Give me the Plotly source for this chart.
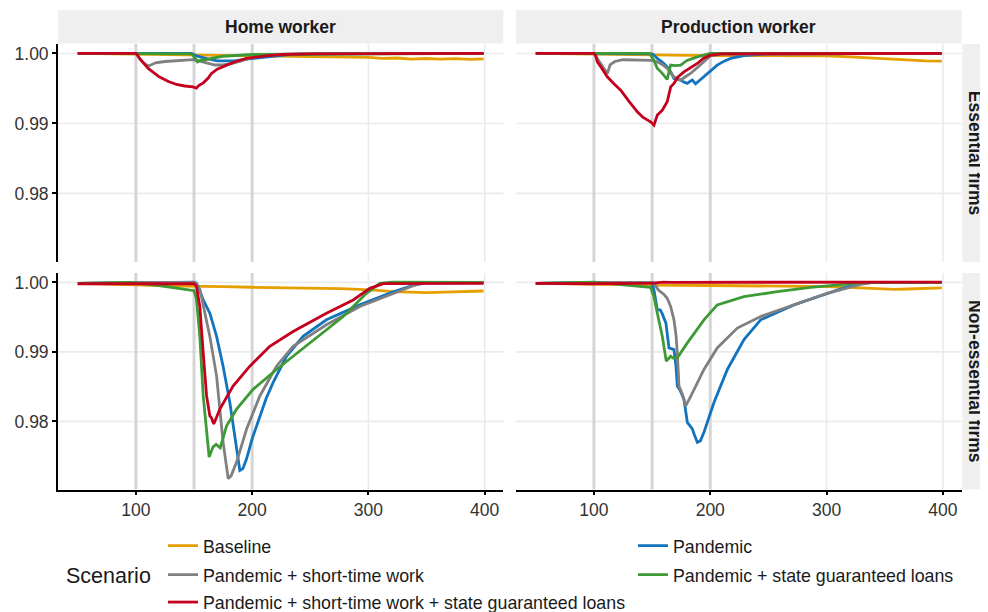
import plotly.graph_objects as go

# ---------------- data ----------------
SCENARIOS = ["Baseline", "Pandemic", "Pandemic + short-time work",
             "Pandemic + state guaranteed loans",
             "Pandemic + short-time work + state guaranteed loans"]
COLORS = ["#E69F00", "#1273BE", "#808080", "#3D9A35", "#C4001E"]
ROW_LABELS = ["Essential firms", "Non-essential firms"]
COL_LABELS = ["Home worker", "Production worker"]
X_TICKS = [100, 200, 300, 400]
Y_TICKS = [0.98, 0.99, 1.00]
Y_TICK_TEXT = ["0.98", "0.99", "1.00"]
POLICY_DATES = [100, 150, 200]

# Essential firms / Home worker
eh_base_x = [50, 75, 100, 125, 150, 175, 200, 225, 250, 275, 300, 312, 325, 337, 350, 362, 375, 387, 399]
eh_base_y = [1.0, 0.99995, 0.9999, 0.99975, 0.9997, 0.9997, 0.99965, 0.9996, 0.99958, 0.9995, 0.99945, 0.9993, 0.99935, 0.9992, 0.99928, 0.99918, 0.99925, 0.99915, 0.99922]
eh_pan_x = [50, 100, 148, 152, 158, 165, 170, 178, 185, 195, 207, 218, 230, 260, 300, 350, 399]
eh_pan_y = [1.0, 1.0, 1.0, 0.99965, 0.99935, 0.9991, 0.99895, 0.99892, 0.99895, 0.9992, 0.9994, 0.9996, 0.9998, 0.99995, 1.0, 1.0, 1.0]
eh_stw_x = [50, 100, 103, 107, 110.5, 117, 125, 135, 149, 154, 160, 168, 175, 182, 190, 197, 205, 215, 230, 260, 399]
eh_stw_y = [1.0, 1.0, 0.9993, 0.9986, 0.99818, 0.99866, 0.99885, 0.999, 0.99911, 0.99895, 0.9987, 0.99835, 0.99835, 0.99855, 0.9989, 0.9993, 0.9996, 0.9998, 0.9999, 1.0, 1.0]
eh_sgl_x = [50, 100, 148, 151, 153, 156, 160, 165, 175, 200, 399]
eh_sgl_y = [1.0, 1.0, 0.99995, 0.9993, 0.9988, 0.99905, 0.9991, 0.9993, 0.9996, 0.99985, 1.0]
eh_both_x = [50, 100, 101, 104, 110.6, 120, 128, 135, 142, 149, 152, 154, 158, 162, 165, 170, 178, 186, 195, 204, 212, 225, 250, 399]
eh_both_y = [1.0, 1.0, 0.99985, 0.9991, 0.99786, 0.99666, 0.996, 0.99557, 0.99535, 0.99523, 0.99505, 0.9954, 0.9958, 0.99645, 0.99714, 0.99775, 0.99833, 0.99885, 0.99929, 0.9995, 0.99966, 0.99985, 0.99995, 1.0]

# Essential firms / Production worker
ep_base_x = [50, 100, 150, 200, 250, 300, 320, 343, 360, 372, 385, 399]
ep_base_y = [1.0, 0.99995, 0.9998, 0.9997, 0.9997, 0.99965, 0.9995, 0.99928, 0.9992, 0.99905, 0.99895, 0.9989]
ep_pan_x = [50, 100, 150, 152, 154.5, 160, 163, 166, 168.8, 172, 174.5, 177.5, 180.3, 182.5, 184.6, 187.4, 190.5, 194.5, 200, 206, 212, 217.5, 229, 250, 399]
ep_pan_y = [1.0, 1.0, 0.99995, 0.9997, 0.99929, 0.9986, 0.99809, 0.9974, 0.99643, 0.9963, 0.99619, 0.9959, 0.99571, 0.996, 0.99619, 0.99566, 0.9961, 0.99666, 0.9975, 0.99833, 0.9989, 0.99929, 0.9997, 0.99995, 1.0]
ep_stw_x = [50, 100, 102, 106, 111.5, 114, 118, 125, 135, 143, 150, 154.5, 159, 163, 166, 168.8, 171.5, 174.5, 178, 183, 189, 194.5, 200, 210, 399]
ep_stw_y = [1.0, 1.0, 0.9995, 0.9985, 0.99714, 0.9984, 0.99885, 0.9991, 0.9991, 0.9991, 0.999, 0.9988, 0.9984, 0.99786, 0.9973, 0.99666, 0.9964, 0.99619, 0.9966, 0.99714, 0.998, 0.9988, 0.99965, 0.9999, 1.0]
ep_sgl_x = [50, 100, 148, 151.6, 154.5, 158, 163, 165.9, 170, 174.5, 180, 189, 200, 399]
ep_sgl_y = [1.0, 1.0, 1.0, 0.999, 0.99786, 0.9973, 0.99628, 0.99833, 0.99825, 0.99833, 0.999, 0.9995, 1.0, 1.0]
ep_both_x = [50, 100, 101.5, 103, 107, 111.5, 117, 123, 130, 137.3, 142, 145.9, 149, 151.6, 153, 154.5, 158.8, 161, 163, 165, 166, 168.8, 172, 177.4, 183, 188.9, 194, 200.3, 210, 399]
ep_both_y = [1.0, 1.0, 0.9997, 0.9988, 0.9978, 0.99666, 0.9957, 0.99476, 0.9932, 0.99166, 0.9909, 0.99047, 0.9902, 0.98976, 0.9905, 0.99119, 0.9919, 0.9925, 0.99309, 0.9945, 0.99523, 0.99571, 0.9966, 0.99737, 0.998, 0.99857, 0.9993, 0.99976, 0.99995, 1.0]

# Non-essential firms / Home worker
nh_base_x = [50, 75, 100, 125, 150, 175, 200, 225, 250, 275, 292, 305, 321, 335, 350, 365, 380, 399]
nh_base_y = [0.99985, 0.9998, 0.99965, 0.9995, 0.99947, 0.9994, 0.9993, 0.99925, 0.9992, 0.9991, 0.999, 0.9989, 0.99866, 0.9986, 0.99852, 0.9986, 0.99865, 0.99876]
nh_pan_x = [50, 100, 150, 152, 155, 157.9, 163.6, 169.4, 175, 180.8, 186.6, 189.4, 192, 195.2, 200, 206.6, 212, 218, 229.5, 243.8, 263.9, 292.6, 321.3, 338.5, 350, 399]
nh_pan_y = [0.99985, 1.0, 1.00005, 0.9999, 0.9988, 0.99747, 0.99557, 0.99223, 0.98794, 0.98271, 0.97651, 0.97294, 0.9732, 0.97461, 0.9775, 0.9808, 0.9833, 0.98557, 0.98937, 0.99223, 0.99461, 0.99676, 0.99866, 0.99957, 1.0, 1.0]
nh_stw_x = [50, 100, 150, 152, 155, 157.9, 163.6, 169.4, 175, 179.4, 182, 186.6, 195.2, 206.6, 220.9, 235.2, 263.9, 292.6, 321.3, 338.5, 350, 399]
nh_stw_y = [0.99985, 1.0, 1.0, 0.9998, 0.999, 0.99676, 0.99223, 0.98651, 0.977, 0.97176, 0.9722, 0.97414, 0.9789, 0.98366, 0.98794, 0.9908, 0.9939, 0.99652, 0.99838, 0.99952, 1.0, 1.0]
nh_sgl_x = [50, 95, 120, 150, 152, 155, 157.9, 160.8, 163, 166.3, 169, 172.5, 178, 186.6, 200.8, 220.9, 249.6, 278.3, 298.3, 309.8, 320, 399]
nh_sgl_y = [0.99985, 1.0, 0.99955, 0.9988, 0.99776, 0.99223, 0.98366, 0.97794, 0.97486, 0.9763, 0.9767, 0.9762, 0.97937, 0.98176, 0.98461, 0.98747, 0.99129, 0.99509, 0.99843, 0.99986, 1.00005, 1.0]
nh_both_x = [50, 100, 150, 152, 155, 157.9, 160.8, 163.6, 165, 167, 170, 172.2, 183.6, 198, 215.2, 235.2, 263.9, 286.9, 301.2, 312.7, 399]
nh_both_y = [0.9998, 0.9998, 0.9998, 0.9995, 0.99652, 0.98986, 0.98366, 0.9808, 0.9805, 0.97961, 0.9808, 0.98176, 0.98509, 0.98794, 0.9908, 0.99294, 0.99557, 0.99747, 0.99914, 0.99981, 0.99985]

# Non-essential firms / Production worker
np_base_x = [50, 100, 150, 200, 250, 300, 329, 345, 358, 370, 385, 399]
np_base_y = [0.99985, 0.9997, 0.9996, 0.99955, 0.9995, 0.9994, 0.9992, 0.9991, 0.999, 0.99905, 0.99915, 0.9992]
np_pan_x = [50, 100, 150, 151.6, 154.5, 157, 158.5, 161.9, 164.5, 168.8, 170.5, 171.7, 174, 177.4, 180.3, 184.6, 186.5, 188.9, 191.5, 194.6, 203.2, 214.7, 229, 243.3, 271.9, 300.6, 323.6, 340, 399]
np_pan_y = [0.99985, 1.0, 1.0, 0.9989, 0.99604, 0.99604, 0.99557, 0.99414, 0.99057, 0.99033, 0.988, 0.98509, 0.9845, 0.98319, 0.97986, 0.9789, 0.978, 0.977, 0.9772, 0.97843, 0.98271, 0.98747, 0.99176, 0.99461, 0.99676, 0.99843, 0.9997, 1.0, 1.0]
np_stw_x = [50, 100, 150, 152, 155.4, 160, 163, 166, 168.8, 170.5, 171.7, 173.1, 176, 178.8, 182, 186, 194.6, 206, 223.3, 243.3, 271.9, 300.6, 329.3, 340, 399]
np_stw_y = [0.99985, 1.0, 1.0, 0.9998, 0.9989, 0.9983, 0.99771, 0.9965, 0.99461, 0.9925, 0.98986, 0.98509, 0.9839, 0.98223, 0.9832, 0.98461, 0.98747, 0.99057, 0.99343, 0.99509, 0.99676, 0.99843, 0.9997, 1.0, 1.0]
np_sgl_x = [50, 100, 148.7, 151.6, 154.5, 158.8, 162.2, 165.9, 168, 171.7, 180.3, 194.6, 206, 228.9, 257.7, 286.3, 315, 330, 399]
np_sgl_y = [0.99985, 1.00005, 0.99928, 0.99795, 0.99557, 0.99223, 0.98866, 0.98937, 0.9891, 0.98914, 0.99129, 0.99461, 0.99676, 0.99795, 0.99866, 0.99928, 0.9997, 1.0, 1.0]
np_both_x = [50, 100, 150, 160, 165, 399]
np_both_y = [0.99985, 0.9998, 0.9999, 1.00005, 1.0, 1.00005]

PANELS = [
    (0, 0, [(eh_base_x, eh_base_y), (eh_pan_x, eh_pan_y), (eh_stw_x, eh_stw_y), (eh_sgl_x, eh_sgl_y), (eh_both_x, eh_both_y)]),
    (0, 1, [(ep_base_x, ep_base_y), (ep_pan_x, ep_pan_y), (ep_stw_x, ep_stw_y), (ep_sgl_x, ep_sgl_y), (ep_both_x, ep_both_y)]),
    (1, 0, [(nh_base_x, nh_base_y), (nh_pan_x, nh_pan_y), (nh_stw_x, nh_stw_y), (nh_sgl_x, nh_sgl_y), (nh_both_x, nh_both_y)]),
    (1, 1, [(np_base_x, np_base_y), (np_pan_x, np_pan_y), (np_stw_x, np_stw_y), (np_sgl_x, np_sgl_y), (np_both_x, np_both_y)]),
]

# ---------------- layout geometry ----------------
# the page body adds an 8px margin, so the figure is 8px smaller and all
# page-pixel positions are shifted by OFF
OFF = 8
W, H = 988 - OFF, 612 - OFF
ML, MR, MT, MB = 58 - OFF, 0, 10 - OFF, 122
PW, PH = W - ML - MR, H - MT - MB


def px(xp):
    return (xp - OFF - ML) / PW


def py(yp):
    return (H - MB - (yp - OFF)) / PH


COL_DOM = [[px(58), px(503.3)], [px(516), px(961.5)]]
ROW_DOM = [[py(262), py(44)], [py(489.5), py(273)]]
STRIP_TOP = [py(43.5), py(10)]
STRIP_RIGHT = [px(962.3), px(988)]
X_RANGE = [33, 416]
Y_RANGE = [0.9702, 1.00135]

FONT = "Liberation Sans, Arial, sans-serif"
GRID = "#EBEBEB"
STRIP_BG = "#EFEFEF"

fig = go.Figure()
LEGEND_OF = {0: "legend", 2: "legend2", 4: "legend3", 1: "legend4", 3: "legend5"}

shapes = []
for pi, (r, c, series) in enumerate(PANELS):
    n = pi + 1
    xa = "x" if n == 1 else f"x{n}"
    ya = "y" if n == 1 else f"y{n}"
    for si, (xs, ys) in enumerate(series):
        fig.add_trace(go.Scatter(
            x=xs, y=ys, mode="lines", name=SCENARIOS[si],
            line=dict(color=COLORS[si], width=2.8),
            xaxis=xa, yaxis=ya, legendgroup=SCENARIOS[si],
            showlegend=(pi == 0), legend=LEGEND_OF[si],
        ))
    for t in Y_TICKS:
        shapes.append(dict(type="line", xref=f"{xa} domain", yref=ya, x0=0, x1=1, y0=t, y1=t,
                           line=dict(color=GRID, width=1.6), layer="below"))
    for t in X_TICKS:
        shapes.append(dict(type="line", xref=xa, yref=f"{ya} domain", x0=t, x1=t, y0=0, y1=1,
                           line=dict(color=GRID, width=1.6), layer="below"))
    for d in POLICY_DATES:
        shapes.append(dict(type="line", xref=xa, yref=f"{ya} domain", x0=d, x1=d, y0=0, y1=1,
                           line=dict(color="#D5D5D5", width=3), layer="below"))

    axis_common = dict(showgrid=False, zeroline=False,
                       tickfont=dict(family=FONT, size=17.5, color="#333333"))
    fig.layout[("xaxis" if n == 1 else f"xaxis{n}")] = dict(
        domain=COL_DOM[c], anchor=ya, range=X_RANGE, tickvals=X_TICKS,
        showticklabels=(r == 1), ticks="outside" if r == 1 else "",
        ticklen=4, tickwidth=1.5, tickcolor="black",
        showline=(r == 1), linecolor="black", linewidth=1.8, **axis_common)
    fig.layout[("yaxis" if n == 1 else f"yaxis{n}")] = dict(
        domain=ROW_DOM[r], anchor=xa, range=Y_RANGE, tickvals=Y_TICKS,
        ticktext=Y_TICK_TEXT, showticklabels=(c == 0), ticks="outside" if c == 0 else "",
        ticklen=4, tickwidth=1.5, tickcolor="black",
        showline=(c == 0), linecolor="black", linewidth=1.8, **axis_common)

annotations = []
for c, lab in enumerate(COL_LABELS):
    shapes.append(dict(type="rect", xref="paper", yref="paper", x0=COL_DOM[c][0], x1=COL_DOM[c][1],
                       y0=STRIP_TOP[0], y1=STRIP_TOP[1], fillcolor=STRIP_BG, line=dict(width=0),
                       layer="below"))
    annotations.append(dict(x=(COL_DOM[c][0] + COL_DOM[c][1]) / 2, y=(STRIP_TOP[0] + STRIP_TOP[1]) / 2,
                            xref="paper", yref="paper", text=f"<b>{lab}</b>", showarrow=False,
                            xanchor="center", yanchor="middle",
                            font=dict(family=FONT, size=17.5, color="#1A1A1A")))
for r, lab in enumerate(ROW_LABELS):
    shapes.append(dict(type="rect", xref="paper", yref="paper", x0=STRIP_RIGHT[0], x1=STRIP_RIGHT[1],
                       y0=ROW_DOM[r][0], y1=ROW_DOM[r][1], fillcolor=STRIP_BG, line=dict(width=0),
                       layer="below"))
    annotations.append(dict(x=(STRIP_RIGHT[0] + STRIP_RIGHT[1]) / 2, y=(ROW_DOM[r][0] + ROW_DOM[r][1]) / 2,
                            xref="paper", yref="paper", text=f"<b>{lab}</b>", showarrow=False,
                            textangle=90, xanchor="center", yanchor="middle",
                            font=dict(family=FONT, size=17.5, color="#1A1A1A")))

annotations.append(dict(x=px(153), y=py(576), xref="paper", yref="paper", text="Scenario",
                        showarrow=False, xanchor="right", yanchor="middle",
                        font=dict(family=FONT, size=21.5, color="#1A1A1A")))

leg_font = dict(family=FONT, size=17.8, color="#1A1A1A")
leg_pos = {
    "legend": (px(163), py(546)),
    "legend2": (px(163), py(575)),
    "legend3": (px(163), py(602.5)),
    "legend4": (px(633), py(546)),
    "legend5": (px(633), py(575)),
}
for name, (lx, ly) in leg_pos.items():
    fig.layout[name] = dict(x=lx, y=ly, xanchor="left", yanchor="middle", orientation="v",
                            bgcolor="rgba(0,0,0,0)", borderwidth=0, font=leg_font)

fig.update_layout(width=W, height=H, margin=dict(l=ML, r=MR, t=MT, b=MB, autoexpand=False),
                  paper_bgcolor="white", plot_bgcolor="white", showlegend=True,
                  shapes=shapes, annotations=annotations)

fig.write_html("out.html")
